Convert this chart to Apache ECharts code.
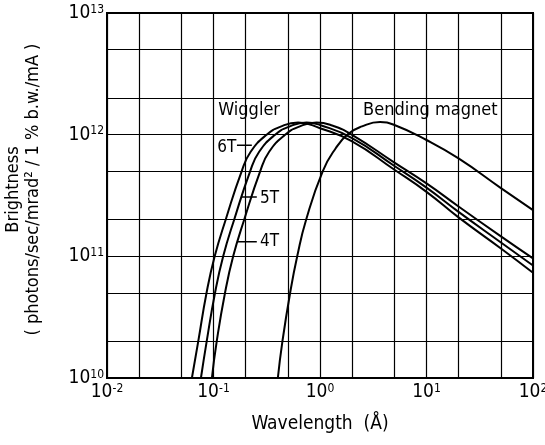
<!DOCTYPE html>
<html>
<head>
<meta charset="utf-8">
<script src="https://cdn.jsdelivr.net/npm/echarts@6/dist/echarts.min.js"></script>
<style>html,body{margin:0;padding:0;background:#fff;}#c{width:545px;height:445px;}</style>
</head>
<body>
<div id="c"></div>
<script>
// ---- Data (wavelength in Å, brightness) ----
const wl6T = [0.0627, 0.0719, 0.0860, 0.1026, 0.1301, 0.1838, 0.2234, 0.3155, 0.4222, 0.623, 1.0, 2.0, 5.0, 10, 20, 50, 100];
const br6T = [1.0e10, 2.0e10, 5.0e10, 1.0e11, 2.0e11, 5.0e11, 7.23e11, 1.0e12, 1.16e12, 1.26e12, 1.13e12, 8.81e11, 5.15e11, 3.39e11, 2.09e11, 1.16e11, 7.33e10];

const wl5T = [0.0762, 0.0863, 0.1033, 0.1233, 0.1563, 0.2208, 0.2684, 0.3791, 0.5073, 0.7485, 1.0, 2.0, 5.0, 10, 20, 50, 100];
const br5T = [1.0e10, 2.0e10, 5.0e10, 1.0e11, 2.0e11, 5.0e11, 7.23e11, 1.0e12, 1.16e12, 1.26e12, 1.2e12, 9.38e11, 5.53e11, 3.67e11, 2.32e11, 1.30e11, 8.41e10];

const wl4T = [0.0966, 0.1072, 0.1282, 0.1530, 0.1941, 0.2742, 0.3331, 0.4706, 0.6297, 0.9292, 1.3, 2.0, 5.0, 10, 20, 50, 100];
const br4T = [1.0e10, 2.0e10, 5.0e10, 1.0e11, 2.0e11, 5.0e11, 7.23e11, 1.0e12, 1.16e12, 1.26e12, 1.19e12, 9.98e11, 5.9e11, 3.98e11, 2.57e11, 1.46e11, 9.62e10];

const wlBM = [0.402, 0.4437, 0.524, 0.611, 0.7407, 1.06, 1.4, 1.845, 2.48, 3.66, 5.0, 10, 20, 50, 100];
const brBM = [1.0e10, 2.0e10, 5.0e10, 1.0e11, 2.0e11, 5.0e11, 7.7e11, 1.016e12, 1.17e12, 1.27e12, 1.2e12, 9.04e11, 6.38e11, 3.64e11, 2.4e11];

// grid lines at 2 and 5 within each decade
const minorX = [0.02, 0.05, 0.2, 0.5, 2, 5, 20, 50];
const minorY = [2e10, 5e10, 2e11, 5e11, 2e12, 5e12];

// annotations (data coordinates)
const annoText = ['Wiggler', 'Bending magnet', '6T', '5T', '4T'];
const annoX = [0.1107, 2.54, 0.1084, 0.274, 0.274];
const annoY = [1.59e12, 1.59e12, 7.9e11, 3.01e11, 1.31e11];
const annoSize = [18, 18, 17, 17, 17];
const leaderX1 = [0.166, 0.1845, 0.166];
const leaderX2 = [0.229, 0.255, 0.255];
const leaderY = [8.2e11, 3.08e11, 1.316e11];

const FONT = '"DejaVu Sans Condensed", "DejaVu Sans", sans-serif';

function zip(a, b) { return a.map((v, i) => [v, b[i]]); }
function powFmt(v) {
  const e = Math.round(Math.log10(v));
  return '{b|10}{s|' + e + '}';
}
const labelRich = {
  b: { fontFamily: FONT, fontSize: 19, color: '#000' },
  s: { fontFamily: FONT, fontSize: 12, color: '#000', verticalAlign: 'top' }
};

const chart = echarts.init(document.getElementById('c'), null, { renderer: 'canvas' });

function curve(name, wl, br, extra) {
  return Object.assign({
    name: name, type: 'line', data: zip(wl, br), smooth: 0.5, symbol: 'none',
    lineStyle: { color: '#000', width: 2 }, z: 5
  }, extra || {});
}

const series = [
  curve('BM', wlBM, brBM, {
    markLine: {
      silent: true, symbol: ['none', 'none'], label: { show: false },
      lineStyle: { color: '#000', width: 1.2, type: 'solid' },
      data: minorX.map(v => ({ xAxis: v })).concat(minorY.map(v => ({ yAxis: v })))
    }
  }),
  curve('6T', wl6T, br6T),
  curve('5T', wl5T, br5T),
  curve('4T', wl4T, br4T),
  {
    type: 'scatter', symbolSize: 0, silent: true, z: 6,
    itemStyle: { opacity: 1 },
    data: annoText.map((t, i) => ({
      value: [annoX[i], annoY[i]],
      label: { show: true, position: 'right', distance: 0, formatter: t, fontFamily: FONT, fontSize: annoSize[i], color: '#000', opacity: 1 }
    }))
  }
];
leaderX1.forEach((x1, i) => {
  series.push({
    type: 'line', symbol: 'none', silent: true, z: 6,
    data: [[x1, leaderY[i]], [leaderX2[i], leaderY[i]]],
    lineStyle: { color: '#000', width: 1.5 }
  });
});

chart.setOption({
  animation: false,
  backgroundColor: '#fff',
  grid: { left: 107, right: 12, top: 13, bottom: 67, show: true, borderColor: '#000', borderWidth: 2, containLabel: false, outerBoundsMode: 'none' },
  xAxis: {
    type: 'log', logBase: 10, min: 0.01, max: 100,
    name: 'Wavelength  (Å)', nameLocation: 'middle', nameGap: 37,
    nameTextStyle: { fontFamily: FONT, fontSize: 19, color: '#000' },
    axisLine: { show: true, lineStyle: { color: '#000', width: 2 } },
    axisTick: { show: false },
    splitLine: { show: true, lineStyle: { color: '#000', width: 1.2 } },
    axisLabel: { formatter: powFmt, rich: labelRich, margin: 5, showMaxLabel: true, showMinLabel: true, hideOverlap: false }
  },
  yAxis: {
    type: 'log', logBase: 10, min: 1e10, max: 1e13,
    name: 'Brightness\n( photons/sec/mrad² / 1 % b.w./mA )', nameLocation: 'middle', nameRotate: 90, nameGap: 64,
    nameTextStyle: { fontFamily: FONT, fontSize: 18, color: '#000', lineHeight: 20, padding: [0, 0, 0, 12] },
    axisLine: { show: true, lineStyle: { color: '#000', width: 2 } },
    axisTick: { show: false },
    splitLine: { show: true, lineStyle: { color: '#000', width: 1.2 } },
    axisLabel: { formatter: powFmt, rich: labelRich, margin: 3, showMaxLabel: true, showMinLabel: true, hideOverlap: false }
  },
  series: series
});
</script>
</body>
</html>
